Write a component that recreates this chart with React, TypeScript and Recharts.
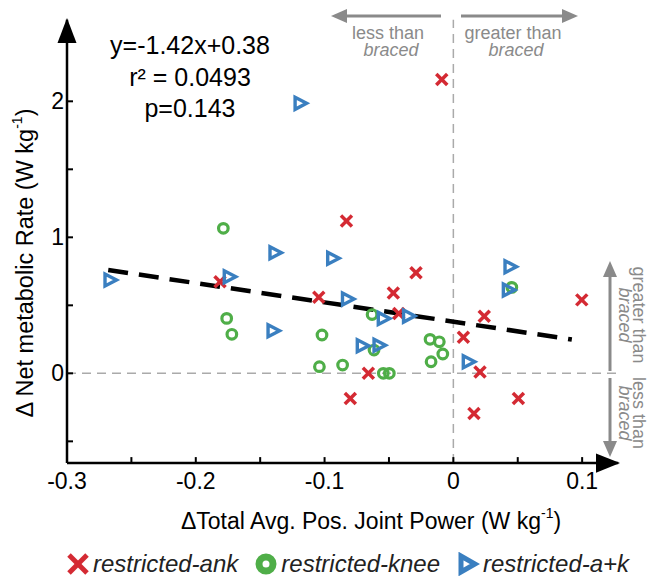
import React from "react";
import { ScatterChart, Scatter, XAxis, YAxis, ReferenceLine } from "recharts";

// ---- data ----
const restrictedAnk = [
  { x: -0.009, y: 2.16 },
  { x: -0.083, y: 1.12 },
  { x: -0.029, y: 0.74 },
  { x: -0.1045, y: 0.56 },
  { x: -0.0466, y: 0.59 },
  { x: -0.0424, y: 0.44 },
  { x: 0.024, y: 0.42 },
  { x: 0.0078, y: 0.265 },
  { x: 0.0207, y: 0.01 },
  { x: -0.066, y: 0.0 },
  { x: -0.08, y: -0.185 },
  { x: 0.0505, y: -0.185 },
  { x: 0.016, y: -0.295 },
  { x: 0.0997, y: 0.54 },
  { x: -0.1812, y: 0.674 },
];

const restrictedKnee = [
  { x: -0.1786, y: 1.066 },
  { x: -0.176, y: 0.404 },
  { x: -0.172, y: 0.287 },
  { x: -0.102, y: 0.282 },
  { x: -0.104, y: 0.049 },
  { x: -0.086, y: 0.061 },
  { x: -0.0544, y: 0.0 },
  { x: -0.0497, y: 0.0 },
  { x: -0.0616, y: 0.171 },
  { x: -0.0631, y: 0.432 },
  { x: -0.0181, y: 0.25 },
  { x: -0.0109, y: 0.232 },
  { x: -0.0173, y: 0.085 },
  { x: -0.0082, y: 0.142 },
  { x: 0.0454, y: 0.632 },
];

const restrictedAK = [
  { x: -0.119, y: 1.985 },
  { x: -0.2666, y: 0.686 },
  { x: -0.174, y: 0.71 },
  { x: -0.1385, y: 0.887 },
  { x: -0.14, y: 0.313 },
  { x: -0.0937, y: 0.846 },
  { x: -0.0822, y: 0.546 },
  { x: -0.0544, y: 0.404 },
  { x: -0.0348, y: 0.421 },
  { x: -0.0707, y: 0.203 },
  { x: -0.0577, y: 0.206 },
  { x: 0.044, y: 0.784 },
  { x: 0.0427, y: 0.613 },
  { x: 0.0116, y: 0.085 },
];

const fitLine = [
  { x: -0.268, y: 0.76 },
  { x: 0.092, y: 0.249 },
];

const xTicks = [-0.3, -0.25, -0.2, -0.15, -0.1, -0.05, 0, 0.05, 0.1];
const xLabelled = [-0.3, -0.2, -0.1, 0, 0.1];
const yTicks = [-0.5, 0, 0.5, 1, 1.5, 2];
const yLabelled = [0, 1, 2];

const statsLines = ["y=-1.42x+0.38", "r\u00B2 = 0.0493", "p=0.143"];

const RED = "#d42a33";
const GREEN = "#4fae48";
const BLUE = "#3a7fc0";
const GRAY = "#8a8a8a";
const FONT = "'Liberation Sans', Arial, sans-serif";

const XShape = (props: any) => {
  const { cx, cy } = props;
  const s = 5.5;
  return (
    <g stroke={RED} strokeWidth={3.5}>
      <line x1={cx - s} y1={cy - s} x2={cx + s} y2={cy + s} />
      <line x1={cx - s} y1={cy + s} x2={cx + s} y2={cy - s} />
    </g>
  );
};

const OShape = (props: any) => {
  const { cx, cy } = props;
  return <circle cx={cx} cy={cy} r={4.8} fill="none" stroke={GREEN} strokeWidth={3.2} />;
};

const TriShape = (props: any) => {
  const { cx, cy } = props;
  const pts = `${cx - 5},${cy - 6} ${cx - 5},${cy + 6} ${cx + 6.5},${cy}`;
  return <polygon points={pts} fill="none" stroke={BLUE} strokeWidth={3.4} strokeLinejoin="miter" />;
};

const fmt = (v: number) => (v === 0 ? "0" : String(v));

const XTick = (props: any) => {
  const { x, y, payload } = props;
  const v = payload.value;
  const lab = xLabelled.some((t) => Math.abs(t - v) < 1e-9);
  return (
    <g>
      <line x1={x} y1={y} x2={x} y2={y - 6} stroke="#000" strokeWidth={2} />
      {lab && (
        <text x={x} y={y + 26} textAnchor="middle" fontSize={23} fontFamily={FONT} fill="#000">
          {fmt(v)}
        </text>
      )}
    </g>
  );
};

const YTick = (props: any) => {
  const { x, y, payload } = props;
  const v = payload.value;
  const lab = yLabelled.some((t) => Math.abs(t - v) < 1e-9);
  return (
    <g>
      <line x1={x} y1={y} x2={x + 6} y2={y} stroke="#000" strokeWidth={2} />
      {lab && (
        <text x={x - 3} y={y + 8} textAnchor="end" fontSize={23} fontFamily={FONT} fill="#000">
          {fmt(v)}
        </text>
      )}
    </g>
  );
};

const LegendItem = ({ kind, label }: { kind: string; label: string }) => (
  <div style={{ display: "flex", alignItems: "center" }}>
    <svg width={24} height={24} style={{ marginRight: 3 }}>
      {kind === "x" && (
        <g stroke={RED} strokeWidth={5}>
          <line x1={3} y1={3} x2={21} y2={21} />
          <line x1={3} y1={21} x2={21} y2={3} />
        </g>
      )}
      {kind === "o" && <circle cx={12} cy={12} r={7} fill="none" stroke={GREEN} strokeWidth={7} />}
      {kind === "t" && (
        <polygon points="5,4 5,20 19,12" fill="none" stroke={BLUE} strokeWidth={5} strokeLinejoin="miter" />
      )}
    </svg>
    <span style={{ fontStyle: "italic", fontSize: 24, fontFamily: FONT, color: "#222" }}>{label}</span>
  </div>
);

export default function App() {
  return (
    <div style={{ position: "absolute", left: 0, top: 0, width: 647, height: 579, background: "#fff" }}>
      <ScatterChart width={647} height={579} margin={{ top: 19.7, right: 28.8, bottom: 85.9, left: 7 }}>
        <XAxis
          type="number"
          dataKey="x"
          domain={[-0.3, 0.128]}
          ticks={xTicks}
          interval={0}
          height={30}
          axisLine={{ stroke: "#000", strokeWidth: 2.5 }}
          tickLine={false}
          tickSize={0}
          tickMargin={0}
          tick={<XTick />}
          allowDataOverflow
        />
        <YAxis
          type="number"
          dataKey="y"
          domain={[-0.66, 2.6]}
          ticks={yTicks}
          interval={0}
          width={60}
          axisLine={{ stroke: "#000", strokeWidth: 2.5 }}
          tickLine={false}
          tickSize={0}
          tickMargin={0}
          tick={<YTick />}
          allowDataOverflow
        />
        <ReferenceLine x={0} stroke="#aaaaaa" strokeWidth={1.5} strokeDasharray="9 6" />
        <ReferenceLine y={0} stroke="#aaaaaa" strokeWidth={1.5} strokeDasharray="9 6" />
        <Scatter data={restrictedAnk} shape={<XShape />} isAnimationActive={false} />
        <Scatter data={restrictedKnee} shape={<OShape />} isAnimationActive={false} />
        <Scatter data={restrictedAK} shape={<TriShape />} isAnimationActive={false} />
        <ReferenceLine
          segment={fitLine}
          stroke="#000"
          strokeWidth={4.5}
          strokeDasharray="20 11"
          ifOverflow="visible"
        />
      </ScatterChart>

      <svg
        width={647}
        height={579}
        style={{ position: "absolute", left: 0, top: 0, pointerEvents: "none" }}
        fontFamily={FONT}
      >
        {/* axis arrowheads */}
        <polygon points="67,18 57.5,43 76.5,43" fill="#000" />
        <polygon points="620,463.1 596,453.5 596,472.7" fill="#000" />

        {/* stats */}
        {statsLines.map((s, i) => (
          <text key={s} x={190} y={45 + i * 31.5} textAnchor="middle" dominantBaseline="central" fontSize={25} fill="#000">
            {s}
          </text>
        ))}

        {/* y axis title */}
        <text
          x={25}
          y={263}
          transform="rotate(-90, 25, 263)"
          textAnchor="middle"
          dominantBaseline="central"
          fontSize={23.5}
          fill="#000"
        >
          {"\u0394 Net metabolic Rate (W kg"}
          <tspan dy={-8} fontSize={14}>-1</tspan>
          <tspan dy={8}>)</tspan>
        </text>

        {/* x axis title */}
        <text x={371} y={521} textAnchor="middle" dominantBaseline="central" fontSize={23} fill="#000">
          {"\u0394Total Avg. Pos. Joint Power (W kg"}
          <tspan dy={-8} fontSize={14}>-1</tspan>
          <tspan dy={8}>)</tspan>
        </text>

        {/* top gray arrows */}
        <g stroke={GRAY} strokeWidth={3} fill={GRAY}>
          <line x1={346} y1={16} x2={441} y2={16} />
          <polygon points="331,16 347,9 347,23" stroke="none" />
          <line x1={461} y1={16} x2={562} y2={16} />
          <polygon points="578,16 562,9 562,23" stroke="none" />
        </g>
        <g fill={GRAY} fontSize={18} textAnchor="middle" dominantBaseline="central">
          <text x={388} y={33}>less than</text>
          <text x={391} y={50} fontStyle="italic">braced</text>
          <text x={513} y={33}>greater than</text>
          <text x={516} y={50} fontStyle="italic">braced</text>
        </g>

        {/* right gray arrows */}
        <g stroke={GRAY} strokeWidth={3} fill={GRAY}>
          <line x1={610} y1={371} x2={610} y2={277} />
          <polygon points="610,261 603,277 617,277" stroke="none" />
          <line x1={610} y1={378} x2={610} y2={441} />
          <polygon points="610,457 603,441 617,441" stroke="none" />
        </g>
        <g fill={GRAY} fontSize={18} textAnchor="middle" dominantBaseline="central">
          <text x={639} y={315} transform="rotate(90, 639, 315)">greater than</text>
          <text x={625} y={315} transform="rotate(90, 625, 315)" fontStyle="italic">braced</text>
          <text x={639} y={413} transform="rotate(90, 639, 413)">less than</text>
          <text x={625} y={413} transform="rotate(90, 625, 413)" fontStyle="italic">braced</text>
        </g>
      </svg>

      <div
        style={{
          position: "absolute",
          left: 24,
          top: 550,
          width: 647,
          display: "flex",
          justifyContent: "center",
          gap: 16,
        }}
      >
        <LegendItem kind="x" label="restricted-ank" />
        <LegendItem kind="o" label="restricted-knee" />
        <LegendItem kind="t" label="restricted-a+k" />
      </div>
    </div>
  );
}
